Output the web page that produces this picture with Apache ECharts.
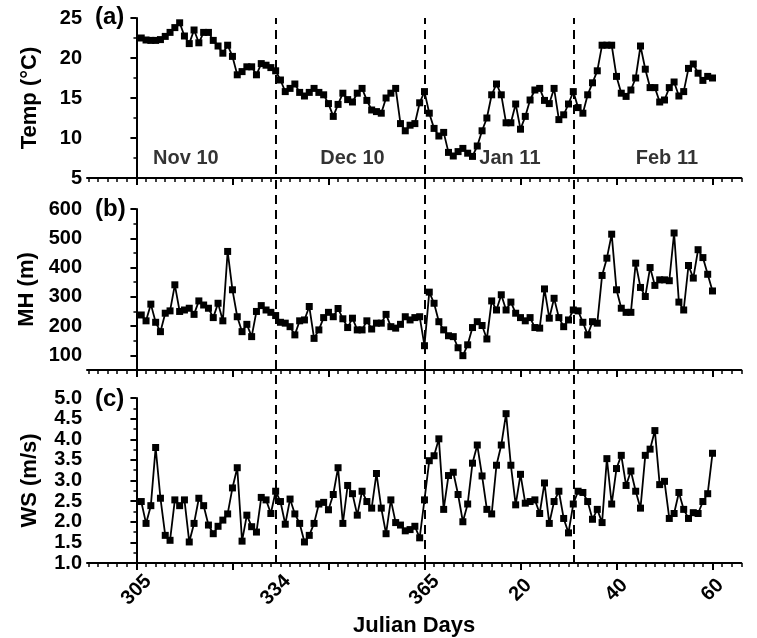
<!DOCTYPE html>
<html><head><meta charset="utf-8">
<script src="https://cdn.jsdelivr.net/npm/echarts@6.0.0/dist/echarts.min.js"></script>
<style>html,body{margin:0;padding:0;background:#fff}#c{width:757px;height:638px}</style>
</head><body><div id="c"></div>
<script>
// Daily series, first sample = Julian day 306 (index 1 on the continuous day axis, 305 = 0)
const tempC = [
22.5,22.25,22.2,22.2,22.3,22.7,23.2,23.8,24.4,22.75,
21.8,23.5,21.9,23.2,23.2,22.2,21.5,20.6,21.6,20.2,
17.9,18.3,18.9,18.9,17.9,19.3,19.1,18.8,18.4,17.25,
15.8,16.2,16.75,15.7,15.25,15.7,16.2,15.7,15.4,14.3,
12.7,14.2,15.6,14.8,14.5,15.6,16.2,14.7,13.5,13.3,
13.1,15.0,15.6,16.2,11.8,10.9,11.6,11.8,14.4,15.8,
13.1,11.2,10.25,10.7,8.2,7.75,8.3,8.7,8.1,7.7,
9.0,10.9,12.5,15.4,16.75,15.4,11.9,11.9,14.25,11.1,
12.7,14.75,16.0,16.2,14.7,14.3,16.2,12.3,12.9,14.25,
15.8,13.8,13.1,15.4,16.9,18.4,21.6,21.6,21.6,17.7,
15.6,15.2,16.0,17.5,21.5,18.6,16.3,16.3,14.5,14.75,
16.3,17.0,15.25,15.8,18.7,19.25,18.1,17.2,17.7,17.5];
const mixingHeight = [
238,218,275,213,181,244,252,341,250,255,
261,240,286,272,261,229,278,218,455,324,
232,181,206,164,250,270,255,247,236,213,
210,198,170,218,221,267,158,187,229,247,
232,260,225,195,227,187,187,218,190,210,
210,240,198,193,206,232,221,229,232,133,
316,278,215,187,167,164,126,99,136,195,
215,202,156,286,255,307,255,282,244,229,
218,229,195,193,327,227,295,229,198,221,
255,252,213,170,215,210,373,432,514,324,
261,247,247,415,332,301,400,339,358,358,
355,518,282,255,407,364,461,434,377,320];
const windSpeed = [
2.49,1.96,2.39,3.80,2.57,1.67,1.55,2.53,2.39,2.53,
1.51,1.96,2.57,2.39,1.92,1.71,1.89,2.04,2.19,2.82,
3.31,1.53,2.16,1.88,1.75,2.59,2.53,2.20,2.74,2.49,
1.94,2.55,2.19,1.96,1.51,1.67,1.96,2.43,2.47,2.29,
2.66,3.31,1.96,2.88,2.68,2.16,2.74,2.49,2.33,3.17,
2.33,1.71,2.53,1.98,1.92,1.78,1.81,1.89,1.61,2.53,
3.48,3.60,4.01,2.30,3.12,3.20,2.66,2.00,2.43,3.42,
3.86,3.11,2.30,2.19,3.37,3.86,4.62,3.37,2.41,3.15,
2.45,2.49,2.53,2.20,2.94,1.96,2.49,2.74,2.08,1.73,
2.43,2.74,2.71,2.49,2.06,2.30,1.98,3.53,2.43,3.29,
3.61,2.88,3.23,2.74,2.33,3.61,3.76,4.21,2.90,2.98,
2.08,2.20,2.71,2.30,2.08,2.22,2.20,2.49,2.68,3.66];
const firstDayIndex = 1;
const xTickLabelPos = [0, 29, 60, 80, 100, 120];
const xTickLabels = ['305', '334', '365', '20', '40', '60'];
const xMajorTicks = [0, 20, 40, 60, 80, 100, 120];
const dashedDays = [29, 60, 91];
const monthLabels = ['Nov 10', 'Dec 10', 'Jan 11', 'Feb 11'];
const panelTags = ['(a)', '(b)', '(c)'];
const mhTicks = [100, 200, 300, 400, 500, 600];
const mhMinorTicks = [50, 150, 250, 350, 450, 550];

const FONT = 'Liberation Sans, Arial, sans-serif';
const XMIN = -10.3, XMAX = 126;
const xMinorTicks = [];
for (let v = -10; v <= XMAX; v += 2) if (xMajorTicks.indexOf(v) < 0) xMinorTicks.push(v);

const L = 87, R = 15.7;
const grids = [
  {left: L, right: R, top: 18, height: 160},
  {left: L, right: R, top: 209, height: 161},
  {left: L, right: R, top: 398, height: 166},
  {left: L, right: R, top: 18, height: 546}
];
const black = '#000';
const tickLbl = {color: black, fontFamily: FONT, fontWeight: 'bold', fontSize: 20};

const xAxes = [];
[0, 1, 2].forEach(g => {
  const bottom = g === 2;
  xAxes.push({
    type: 'value', gridIndex: g, min: XMIN, max: XMAX, position: 'bottom',
    axisLine: {show: true, onZero: false, lineStyle: {color: black, width: 2}},
    axisTick: {show: true, customValues: xMajorTicks, length: 7, lineStyle: {color: black, width: 2}},
    axisLabel: bottom ? Object.assign({show: true, customValues: xTickLabelPos, rotate: 45,
      align: 'center', verticalAlign: 'middle', margin: 27,
      formatter: v => xTickLabels[xTickLabelPos.indexOf(v)] || ''}, tickLbl) : {show: false},
    splitLine: {show: false},
    name: bottom ? 'Julian Days' : '', nameLocation: 'middle', nameGap: 52,
    nameTextStyle: {color: black, fontFamily: FONT, fontWeight: 'bold', fontSize: 22}
  });
  xAxes.push({
    type: 'value', gridIndex: g, min: XMIN, max: XMAX, position: 'bottom',
    axisLine: {show: false},
    axisTick: {show: true, customValues: xMinorTicks, length: 4, lineStyle: {color: black, width: 1.5}},
    axisLabel: {show: false}, splitLine: {show: false}
  });
});
xAxes.push({type: 'value', gridIndex: 3, min: XMIN, max: XMAX, show: false});

const yName = {color: black, fontFamily: FONT, fontWeight: 'bold', fontSize: 22};
const Y_NAME_GAP = 46;
const yAxes = [
  {type: 'value', gridIndex: 0, min: 5, max: 25, interval: 5,
   axisLine: {show: true, lineStyle: {color: black, width: 2}},
   axisTick: {show: true, length: 6, lineStyle: {color: black, width: 2}},
   minorTick: {show: true, splitNumber: 2, length: 3, lineStyle: {color: black, width: 1.5}},
   axisLabel: Object.assign({margin: 5}, tickLbl), splitLine: {show: false},
   name: 'Temp (°C)', nameLocation: 'middle', nameGap: Y_NAME_GAP, nameTextStyle: yName},
  {type: 'value', gridIndex: 1, min: 50, max: 600,
   axisLine: {show: true, lineStyle: {color: black, width: 2}},
   axisTick: {show: true, customValues: mhTicks, length: 6, lineStyle: {color: black, width: 2}},
   axisLabel: Object.assign({margin: 5, customValues: mhTicks}, tickLbl), splitLine: {show: false},
   name: 'MH (m)', nameLocation: 'middle', nameGap: Y_NAME_GAP, nameTextStyle: yName},
  {type: 'value', gridIndex: 1, min: 50, max: 600, position: 'left',
   axisLine: {show: false},
   axisTick: {show: true, customValues: mhMinorTicks, length: 3, lineStyle: {color: black, width: 1.5}},
   axisLabel: {show: false}, splitLine: {show: false}},
  {type: 'value', gridIndex: 2, min: 1, max: 5, interval: 0.5,
   axisLine: {show: true, lineStyle: {color: black, width: 2}},
   axisTick: {show: true, length: 6, lineStyle: {color: black, width: 2}},
   minorTick: {show: true, splitNumber: 2, length: 3, lineStyle: {color: black, width: 1.5}},
   axisLabel: Object.assign({margin: 5, formatter: v => v.toFixed(1)}, tickLbl), splitLine: {show: false},
   name: 'WS (m/s)', nameLocation: 'middle', nameGap: Y_NAME_GAP, nameTextStyle: yName},
  {type: 'value', gridIndex: 3, min: 0, max: 1, show: false}
];

const toXY = arr => arr.map((v, i) => [firstDayIndex + i, v]);
const lineSeries = (data, xi, yi) => ({
  type: 'line', xAxisIndex: xi, yAxisIndex: yi, data: toXY(data),
  symbol: 'rect', symbolSize: 7, showSymbol: true,
  lineStyle: {color: black, width: 1.8}, itemStyle: {color: black}, z: 5
});

// month annotation anchors (day-axis position, temperature level)
const monthAnchorX = [10.3, 45, 77.8, 110.5];
const monthAnchorY = 7.5;

const option = {
  animation: false,
  backgroundColor: '#fff',
  grid: grids,
  xAxis: xAxes,
  yAxis: yAxes,
  series: [
    lineSeries(tempC, 0, 0),
    lineSeries(mixingHeight, 2, 1),
    lineSeries(windSpeed, 4, 3),
    {type: 'scatter', xAxisIndex: 0, yAxisIndex: 0, symbolSize: 0, silent: true,
     data: monthLabels.map((m, i) => ({value: [monthAnchorX[i], monthAnchorY], name: m})),
     label: {show: true, position: 'inside', formatter: p => p.name,
       color: black, fontFamily: FONT, fontWeight: 'bold', fontSize: 20}},
    {type: 'line', xAxisIndex: 6, yAxisIndex: 4, data: [], silent: true,
     markLine: {symbol: ['none', 'none'], silent: true, label: {show: false},
       lineStyle: {color: black, width: 2, type: [9, 6]},
       data: dashedDays.map(d => ({xAxis: d}))}}
  ],
  graphic: panelTags.map((t, i) => ({
    type: 'text', left: 95, top: [5, 197, 387][i],
    style: {text: t, fill: black, font: 'bold 24px ' + FONT}
  }))
};
const chart = echarts.init(document.getElementById('c'), null, {renderer: 'canvas'});
chart.setOption(option);
</script></body></html>
